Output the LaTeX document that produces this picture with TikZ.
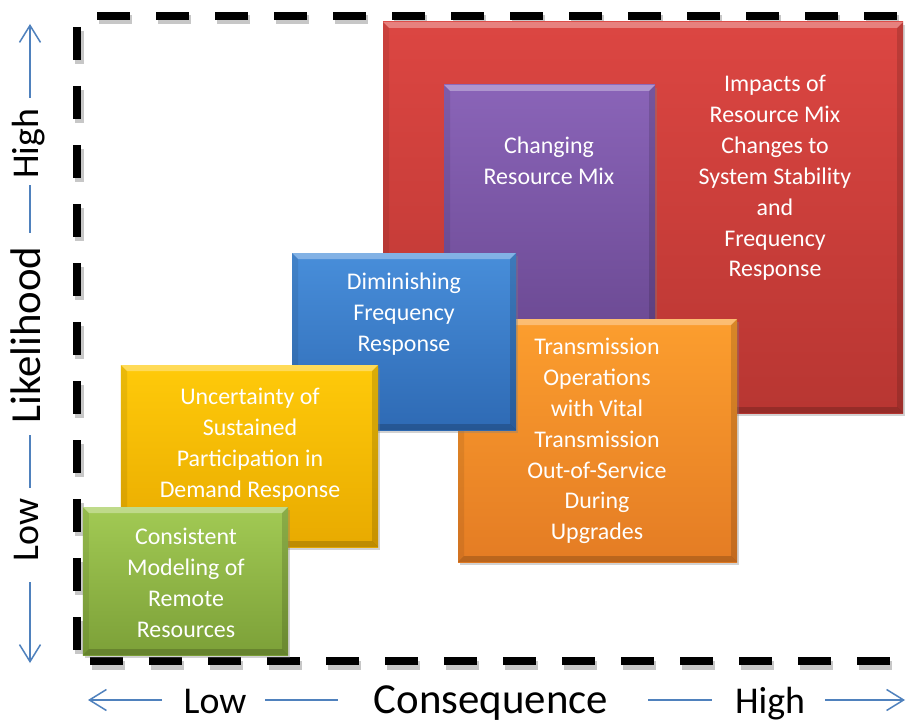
\documentclass[tikz,border=0pt]{standalone}
\usepackage{fontspec}
\setmainfont{Carlito}
\usetikzlibrary{shadows,arrows.meta}
\definecolor{axblue}{RGB}{79,129,189}
\definecolor{redT}{RGB}{220,70,66}
\definecolor{redB}{RGB}{184,54,50}
\definecolor{purT}{RGB}{138,100,184}
\definecolor{purB}{RGB}{108,74,148}
\definecolor{bluT}{RGB}{72,142,218}
\definecolor{bluB}{RGB}{46,106,180}
\definecolor{yelT}{RGB}{255,202,10}
\definecolor{yelB}{RGB}{232,170,0}
\definecolor{grnT}{RGB}{162,202,84}
\definecolor{grnB}{RGB}{124,160,56}
\definecolor{orgT}{RGB}{252,158,46}
\definecolor{orgB}{RGB}{228,124,36}
\begin{document}
\begin{tikzpicture}[x=1bp,y=-1bp,
  box/.style={rectangle, draw=none, inner sep=0pt,
    drop shadow={shadow xshift=2bp,shadow yshift=-3bp,opacity=0.35},
    path picture={
      \fill[white,opacity=0.32] (path picture bounding box.north west) -- (path picture bounding box.north east)
        -- ([xshift=-6bp,yshift=-6bp]path picture bounding box.north east) -- ([xshift=6bp,yshift=-6bp]path picture bounding box.north west) -- cycle;
      \fill[black,opacity=0.18] (path picture bounding box.south west) -- (path picture bounding box.south east)
        -- ([xshift=-6bp,yshift=6bp]path picture bounding box.south east) -- ([xshift=6bp,yshift=6bp]path picture bounding box.south west) -- cycle;
      \fill[black,opacity=0.08] (path picture bounding box.north west) -- ([xshift=6bp,yshift=-6bp]path picture bounding box.north west)
        -- ([xshift=6bp,yshift=6bp]path picture bounding box.south west) -- (path picture bounding box.south west) -- cycle;
      \fill[black,opacity=0.14] (path picture bounding box.north east) -- ([xshift=-6bp,yshift=-6bp]path picture bounding box.north east)
        -- ([xshift=-6bp,yshift=6bp]path picture bounding box.south east) -- (path picture bounding box.south east) -- cycle;
    }},
  lbl/.style={text=white, align=center, inner sep=0pt, font=\fontsize{24}{31}\selectfont},
  axlbl/.style={inner sep=0pt, anchor=base, font=\fontsize{38}{40}\selectfont},
  axbig/.style={inner sep=0pt, anchor=base, font=\fontsize{43}{45}\selectfont},
  axline/.style={draw=axblue, line width=1.5bp},
  axarrow/.style={axline, -{Straight Barb[length=17bp,width=21bp,line width=1.5bp]}},
  frame/.style={line width=8bp, line cap=butt, dash pattern=on 33bp off 26bp},
  frameshadow/.style={line width=9bp, black, opacity=0.22, dash pattern=on 33bp off 26bp}
]
\useasboundingbox (0,0) rectangle (907,721);
\fill[white] (0,0) rectangle (907,721);

% dashed frame
\coordinate (ft0) at (97,16);  \coordinate (ft1) at (907,16);
\coordinate (fl0) at (77,27);  \coordinate (fl1) at (77,655);
\coordinate (fb0) at (90,661); \coordinate (fb1) at (905,661);
\coordinate (st0) at (99,20);  \coordinate (st1) at (909,20);
\coordinate (sl0) at (79,31);  \coordinate (sl1) at (79,659);
\coordinate (sb0) at (92,665); \coordinate (sb1) at (907,665);
\draw[frameshadow] (st0) -- (st1);
\draw[frameshadow] (sl0) -- (sl1);
\draw[frameshadow] (sb0) -- (sb1);
\draw[frame] (ft0) -- (ft1);
\draw[frame] (fl0) -- (fl1);
\draw[frame] (fb0) -- (fb1);

% boxes
\node[box, top color=redT, bottom color=redB, minimum width=520bp, minimum height=391bp] (red) at (643,217.5) {};
\node[box, top color=purT, bottom color=purB, minimum width=211bp, minimum height=245bp] (purple) at (549.5,207.5) {};
\node[box, top color=orgT, bottom color=orgB, minimum width=279bp, minimum height=243bp] (orange) at (597.5,440.5) {};
\node[box, top color=bluT, bottom color=bluB, minimum width=224bp, minimum height=177bp] (blue) at (404,341.5) {};
\node[box, top color=yelT, bottom color=yelB, minimum width=257bp, minimum height=182bp] (yellow) at (249.5,456) {};
\node[box, top color=grnT, bottom color=grnB, minimum width=205bp, minimum height=148bp] (green) at (185.5,581) {};

% box texts
\node[lbl] (redtxt) at (775,178) {Impacts of\\Resource Mix\\Changes to\\System Stability\\and\\Frequency\\Response};
\node[lbl] (purtxt) at (549,161) {Changing\\Resource Mix};
\node[lbl] (orgtxt) at (597,441) {Transmission\\Operations\\with Vital\\Transmission\\Out-of-Service\\During\\Upgrades};
\node[lbl] (blutxt) at (404,314) {Diminishing\\Frequency\\Response};
\node[lbl] (yeltxt) at (250,445) {Uncertainty of\\Sustained\\Participation in\\Demand Response};
\node[lbl] (grntxt) at (186,583) {Consistent\\Modeling of\\Remote\\Resources};

% bottom axis
\node[axlbl] (xlow) at (215,713) {Low};
\node[axbig] (xcons) at (491,713) {Consequence};
\node[axlbl] (xhigh) at (770,713) {High};
\coordinate (xa0) at (162,700); \coordinate (xa1) at (88,700);
\coordinate (xb0) at (265,700); \coordinate (xb1) at (338,700);
\coordinate (xc0) at (648,700); \coordinate (xc1) at (712,700);
\coordinate (xd0) at (825,700); \coordinate (xd1) at (905,700);
\draw[axarrow] (xa0) -- (xa1);
\draw[axline] (xb0) -- (xb1);
\draw[axline] (xc0) -- (xc1);
\draw[axarrow] (xd0) -- (xd1);

% left axis
\node[axlbl, rotate=90] (yhigh) at (38,144) {High};
\node[axbig, rotate=90] (ylik) at (40,335) {Likelihood};
\node[axlbl, rotate=90] (ylow) at (38,530) {Low};
\coordinate (ya0) at (30,98);  \coordinate (ya1) at (30,24);
\coordinate (yb0) at (30,185); \coordinate (yb1) at (30,233);
\coordinate (yc0) at (30,435); \coordinate (yc1) at (30,488);
\coordinate (yd0) at (30,582); \coordinate (yd1) at (30,663);
\draw[axarrow] (ya0) -- (ya1);
\draw[axline] (yb0) -- (yb1);
\draw[axline] (yc0) -- (yc1);
\draw[axarrow] (yd0) -- (yd1);
\end{tikzpicture}
\end{document}
